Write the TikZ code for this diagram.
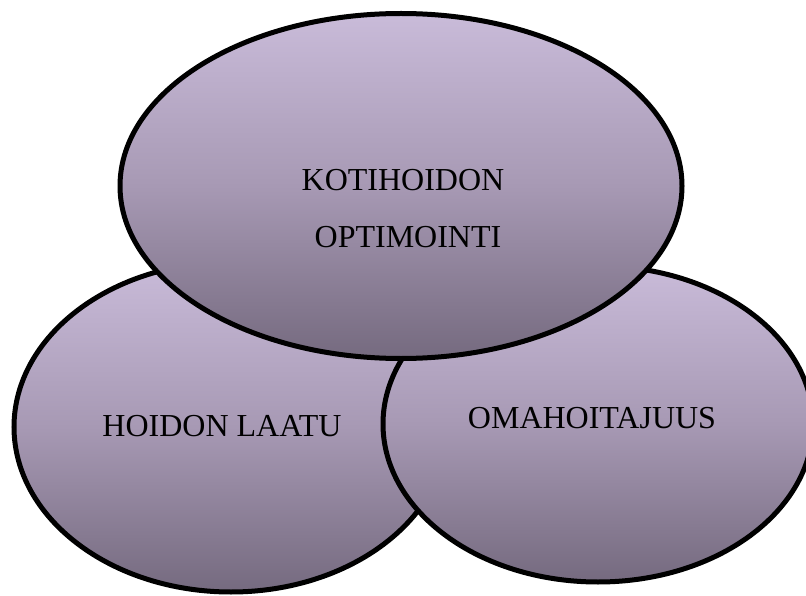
\documentclass[tikz,border=0pt]{standalone}
\usepackage{fontspec}
\setmainfont{Liberation Serif}
\usetikzlibrary{shapes.geometric}
\definecolor{lavtop}{RGB}{201,187,217}
\definecolor{lavmid}{RGB}{167,153,180}
\definecolor{lavbot}{RGB}{117,106,127}
\tikzset{
  venn/.style={ellipse, draw=black, line width=5pt, outer sep=0pt, inner sep=0pt,
    top color=lavtop, bottom color=lavbot, middle color=lavmid},
  lbl/.style={font=\fontsize{32}{38}\selectfont, text=black, inner sep=0pt, align=center}
}
\begin{document}
\begin{tikzpicture}[x=1pt,y=-1pt]
\clip (0,0) rectangle (806,596);
\fill[white] (0,0) rectangle (806,596);
\node[venn, minimum width=434pt, minimum height=330pt] (left) at (231,427) {};
\node[venn, minimum width=430pt, minimum height=316pt] (right) at (598,424) {};
\node[venn, minimum width=562pt, minimum height=345pt] (top) at (401,186) {};
\node[lbl] (tl1) at (403,180) {KOTIHOIDON};
\node[lbl] (tl2) at (408,237) {OPTIMOINTI};
\node[lbl] (ll) at (222,426) {HOIDON LAATU};
\node[lbl] (rl) at (592,418) {OMAHOITAJUUS};
\end{tikzpicture}
\end{document}
